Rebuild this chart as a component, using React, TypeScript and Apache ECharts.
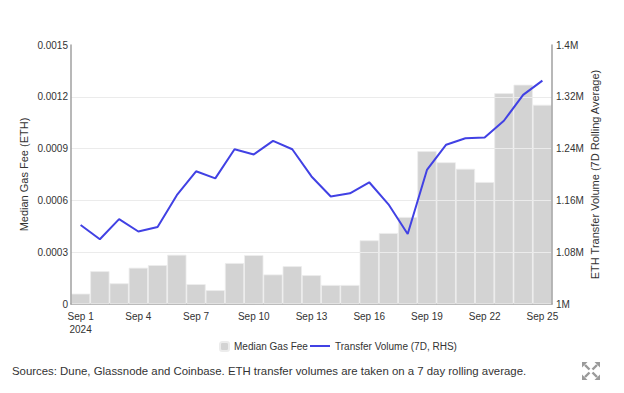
import React, { useEffect, useRef } from "react";
import * as echarts from "echarts";

const categories = [
  "Sep 1", "Sep 2", "Sep 3", "Sep 4", "Sep 5", "Sep 6", "Sep 7", "Sep 8", "Sep 9",
  "Sep 10", "Sep 11", "Sep 12", "Sep 13", "Sep 14", "Sep 15", "Sep 16", "Sep 17",
  "Sep 18", "Sep 19", "Sep 20", "Sep 21", "Sep 22", "Sep 23", "Sep 24", "Sep 25",
];

const medianGasFee = [
  0.00006, 0.00019, 0.00012, 0.00021, 0.000225, 0.000285, 0.000115, 0.00008, 0.000237,
  0.000283, 0.000171, 0.000219, 0.000167, 0.00011, 0.00011, 0.000369, 0.000411,
  0.000504, 0.000885, 0.000821, 0.000783, 0.000706, 0.001221, 0.00127, 0.001154,
];

const transferVolume = [
  1122000, 1100000, 1131000, 1112000, 1119000, 1168000, 1205000, 1194000, 1239000,
  1231000, 1252000, 1239000, 1197000, 1166000, 1171000, 1188000, 1154000,
  1108000, 1207000, 1246000, 1256000, 1257000, 1283000, 1323000, 1345000,
];

const leftTicks = { min: 0, max: 0.0015, interval: 0.0003 };
const rightTicks = { min: 1000000, max: 1400000 };

const sourceNote =
  "Sources: Dune, Glassnode and Coinbase. ETH transfer volumes are taken on a 7 day rolling average.";

const FONT = "'Liberation Sans', Arial, sans-serif";

export default function App() {
  const ref = useRef<HTMLDivElement>(null);

  useEffect(() => {
    document.body.style.margin = "0";
    if (!ref.current) return;
    const chart = echarts.init(ref.current, undefined, { renderer: "svg" });

    const arrowColor = "#9a9a9a";
    const arrows: any[] = [];
    const dirs = [
      [-1, -1],
      [1, -1],
      [-1, 1],
      [1, 1],
    ];
    dirs.forEach(([dx, dy]) => {
      arrows.push({
        type: "line",
        shape: { x1: dx * 1.5, y1: dy * 1.5, x2: dx * 6, y2: dy * 6 },
        style: { stroke: arrowColor, lineWidth: 2.4 },
      });
      arrows.push({
        type: "polygon",
        shape: {
          points: [
            [dx * 9, dy * 9],
            [dx * 9, dy * 3.5],
            [dx * 3.5, dy * 9],
          ],
        },
        style: { fill: arrowColor },
      });
    });

    chart.setOption({
      animation: false,
      textStyle: { fontFamily: FONT },
      grid: { left: 71, right: 72, top: 45, bottom: 89, containLabel: false },
      legend: [
        {
          data: ["Median Gas Fee"],
          left: 214,
          top: 336,
          itemWidth: 9,
          itemHeight: 9,
          itemGap: 6,
          textStyle: { fontSize: 10, color: "#333", fontFamily: FONT },
        },
        {
          data: [{ name: "Transfer Volume (7D, RHS)", icon: "rect" }],
          left: 305,
          top: 336,
          itemWidth: 20,
          itemHeight: 2,
          textStyle: { fontSize: 10, color: "#333", fontFamily: FONT },
        },
      ],
      xAxis: {
        type: "category",
        data: categories,
        boundaryGap: true,
        axisLine: { lineStyle: { color: "#a0a0a0", width: 1.5 } },
        axisTick: { show: false },
        axisLabel: {
          interval: 2,
          fontSize: 10,
          color: "#333",
          margin: 6,
          lineHeight: 13,
          fontFamily: FONT,
          formatter: (v: string, i: number) => (i === 0 ? v + "\n2024" : v),
        },
      },
      yAxis: [
        {
          type: "value",
          min: leftTicks.min,
          max: leftTicks.max,
          interval: leftTicks.interval,
          z: 3,
          name: "Median Gas Fee (ETH)",
          nameLocation: "middle",
          nameRotate: 90,
          nameGap: 42,
          nameMoveOverlap: false,
          nameTextStyle: { fontSize: 11, color: "#333", fontFamily: FONT },
          axisLine: { show: true, lineStyle: { color: "#a0a0a0", width: 1.5 } },
          axisTick: { show: false },
          axisLabel: {
            fontSize: 10,
            color: "#333",
            margin: 3,
            fontFamily: FONT,
            formatter: (v: number) => (v === 0 ? "0" : v.toFixed(4)),
          },
          splitLine: {
            show: true,
            showMinLine: false,
            showMaxLine: false,
            lineStyle: { color: "#ebebeb", width: 1 },
          },
        },
        {
          type: "value",
          min: rightTicks.min,
          max: rightTicks.max,
          alignTicks: true,
          position: "right",
          z: 3,
          name: "ETH Transfer Volume (7D Rolling Average)",
          nameLocation: "middle",
          nameRotate: 90,
          nameGap: 37,
          nameMoveOverlap: false,
          nameTextStyle: { fontSize: 11, color: "#333", fontFamily: FONT },
          axisLine: { show: true, lineStyle: { color: "#a0a0a0", width: 1.5 } },
          axisTick: { show: false },
          axisLabel: {
            fontSize: 10,
            color: "#333",
            margin: 4,
            fontFamily: FONT,
            formatter: (v: number) => {
              const m = Math.round((v / 1e6) * 100) / 100;
              return m + "M";
            },
          },
          splitLine: { show: false },
        },
      ],
      series: [
        {
          name: "Median Gas Fee",
          type: "bar",
          yAxisIndex: 0,
          data: medianGasFee,
          barCategoryGap: "0%",
          itemStyle: { color: "#d3d3d3", borderColor: "#ececec", borderWidth: 0.8 },
        },
        {
          name: "Transfer Volume (7D, RHS)",
          type: "line",
          yAxisIndex: 1,
          data: transferVolume,
          symbol: "none",
          z: 4,
          lineStyle: { color: "#4141e4", width: 2 },
          itemStyle: { color: "#4141e4" },
        },
      ],
      graphic: [
        {
          type: "text",
          left: 12,
          top: 365,
          style: {
            text: sourceNote,
            fontSize: 11.4,
            fill: "#333",
            fontFamily: FONT,
          },
        },
        {
          type: "group",
          x: 591,
          y: 371,
          children: arrows,
        },
      ],
    });

    return () => chart.dispose();
  }, []);

  return <div ref={ref} style={{ width: 624, height: 393 }} />;
}
